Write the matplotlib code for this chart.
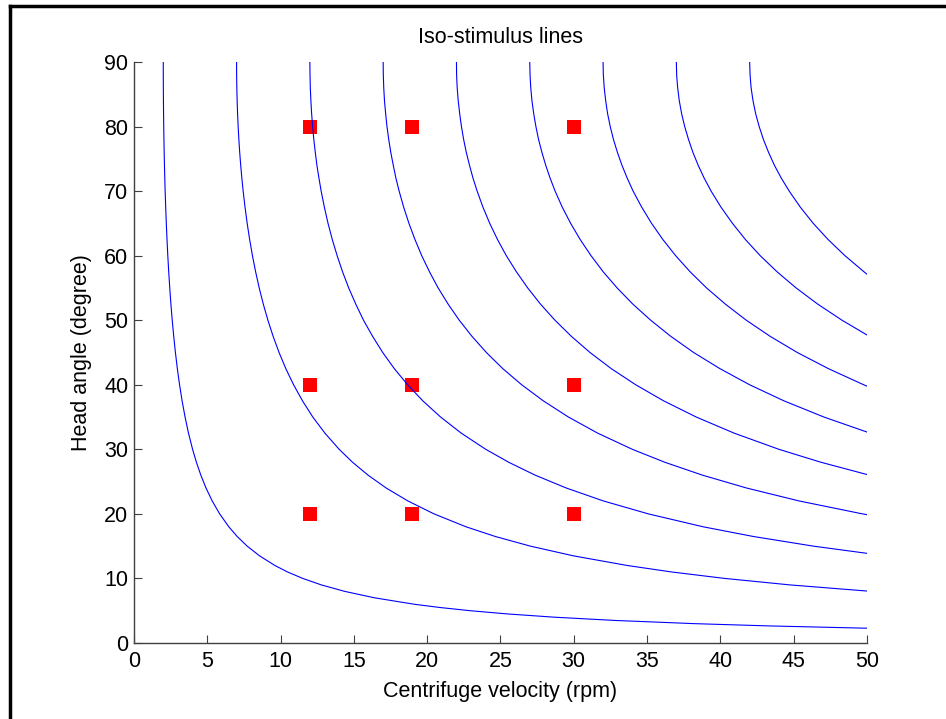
import matplotlib
matplotlib.use("Agg")
import matplotlib.pyplot as plt
from matplotlib.lines import Line2D

plt.rcParams['font.family'] = ['Liberation Sans', 'DejaVu Sans']

# Head angles (deg) at which the iso-stimulus curves were read, top to bottom
angle_levels = [90, 88, 86, 84, 82, 80, 78, 76, 74, 72, 70, 67.5, 65, 62.5, 60, 57.5, 55,
                52.5, 50, 47.5, 45, 42.5, 40, 37.5, 35, 32.5, 30, 28, 26, 24, 22, 20, 18,
                16.5, 15, 13.5, 12, 11, 10, 9, 8, 7, 6, 5.5, 5, 4.5, 4, 3.5, 3, 2.65]

# Velocity (rpm) of each curve at those angles
curve_x_1 = [2, 2.001, 2.005, 2.011, 2.020, 2.031, 2.045, 2.061, 2.081, 2.103, 2.128, 2.165,
             2.207, 2.255, 2.309, 2.371, 2.442, 2.521, 2.611, 2.713, 2.828, 2.960, 3.111,
             3.285, 3.487, 3.722, 4, 4.260, 4.562, 4.917, 5.339, 5.848, 6.472, 7.042, 7.727,
             8.567, 9.619, 10.48, 11.52, 12.78, 14.37, 16.41, 19.13, 20.87, 22.95, 25.49,
             28.67, 32.76, 38.21, 43.26]
curve_x_2 = [7, 7.004, 7.017, 7.039, 7.069, 7.108, 7.156, 7.214, 7.282, 7.360, 7.449, 7.577,
             7.724, 7.892, 8.083, 8.300, 8.545, 8.823, 9.138, 9.494, 9.899, 10.36, 10.89,
             11.50, 12.20, 13.03, 14, 14.91, 15.97, 17.21, 18.69, 20.47, 22.65, 24.65, 27.05,
             29.98, 33.67, 36.69, 40.31, 44.75]
curve_x_3 = [12, 12.01, 12.03, 12.07, 12.12, 12.19, 12.27, 12.37, 12.48, 12.62, 12.77, 12.99,
             13.24, 13.53, 13.86, 14.23, 14.65, 15.13, 15.66, 16.28, 16.97, 17.76, 18.67,
             19.71, 20.92, 22.33, 24, 25.56, 27.37, 29.50, 32.03, 35.09, 38.83, 42.25, 46.36]
curve_x_4 = [17, 17.01, 17.04, 17.09, 17.17, 17.26, 17.38, 17.52, 17.69, 17.87, 18.09, 18.40,
             18.76, 19.17, 19.63, 20.16, 20.75, 21.43, 22.19, 23.06, 24.04, 25.16, 26.45,
             27.93, 29.64, 31.64, 34, 36.21, 38.78, 41.80, 45.38, 49.70]
curve_x_5 = [22, 22.01, 22.05, 22.12, 22.22, 22.34, 22.49, 22.67, 22.89, 23.13, 23.41, 23.81,
             24.27, 24.80, 25.40, 26.09, 26.86, 27.73, 28.72, 29.84, 31.11, 32.56, 34.23,
             36.14, 38.36, 40.95, 44, 46.86]
curve_x_6 = [27, 27.02, 27.07, 27.15, 27.27, 27.42, 27.60, 27.83, 28.09, 28.39, 28.73, 29.22,
             29.79, 30.44, 31.18, 32.01, 32.96, 34.03, 35.25, 36.62, 38.18, 39.97, 42.00,
             44.35, 47.07]
curve_x_7 = [32, 32.02, 32.08, 32.18, 32.31, 32.49, 32.71, 32.98, 33.29, 33.65, 34.05, 34.64,
             35.31, 36.08, 36.95, 37.94, 39.06, 40.34, 41.77, 43.40, 45.25, 47.37, 49.78]
curve_x_8 = [37, 37.02, 37.09, 37.20, 37.36, 37.57, 37.83, 38.13, 38.49, 38.90, 39.37, 40.05,
             40.83, 41.71, 42.72, 43.87, 45.17, 46.64, 48.30]
curve_x_9 = [42, 42.03, 42.10, 42.23, 42.41, 42.65, 42.94, 43.29, 43.69, 44.16, 44.70, 45.46,
             46.34, 47.35, 48.50, 49.80]

# Angle at which each curve meets the right edge (50 rpm)
edge_velocity = 50
edge_angles = [2.29, 8.05, 13.89, 19.88, 26.10, 32.68, 39.79, 47.72, 57.14]

curves_x = [curve_x_1, curve_x_2, curve_x_3, curve_x_4, curve_x_5,
            curve_x_6, curve_x_7, curve_x_8, curve_x_9]

# Test points
point_x = [12, 19, 30, 12, 19, 30, 12, 19, 30]
point_y = [80, 80, 80, 40, 40, 40, 20, 20, 20]

x_ticks = [0, 5, 10, 15, 20, 25, 30, 35, 40, 45, 50]
y_ticks = [0, 10, 20, 30, 40, 50, 60, 70, 80, 90]

fig = plt.figure(figsize=(9.46, 7.19), dpi=100)
ax = fig.add_axes([0.1416, 0.1057, 0.7748, 0.8081])

ax.plot(point_x, point_y, 's', color='#ff0000', markersize=10.3, markeredgewidth=0, zorder=2)
for cx, end_a in zip(curves_x, edge_angles):
    xs = list(cx) + [edge_velocity]
    ys = list(angle_levels[:len(cx)]) + [end_a]
    ax.plot(xs, ys, '-', color='#0000ff', linewidth=0.8, zorder=3)

ax.set_xlim(0, 50)
ax.set_ylim(0, 90)
ax.set_xticks(x_ticks)
ax.set_yticks(y_ticks)
ax.spines['top'].set_visible(False)
ax.spines['right'].set_visible(False)
for s in ('left', 'bottom'):
    ax.spines[s].set_color('#404040')
    ax.spines[s].set_linewidth(1.0)
ax.tick_params(direction='in', length=6, width=0.8, colors='#404040',
               labelcolor='black', labelsize=15.5)
ax.tick_params(axis='x', pad=6)
ax.tick_params(axis='y', pad=4)

ax.set_title('Iso-stimulus lines', fontsize=15.5, pad=14)
ax.set_xlabel('Centrifuge velocity (rpm)', fontsize=15.5, labelpad=6)
ax.set_ylabel('Head angle (degree)', fontsize=15.5, labelpad=9)

# figure border (top and left)
fig.add_artist(Line2D([0.0105, 1.0], [0.9916, 0.9916], transform=fig.transFigure,
                      color='black', linewidth=2.5))
fig.add_artist(Line2D([0.0105, 0.0105], [0.0, 0.9916], transform=fig.transFigure,
                      color='black', linewidth=2.5))

fig.savefig('out.png', dpi=100)
